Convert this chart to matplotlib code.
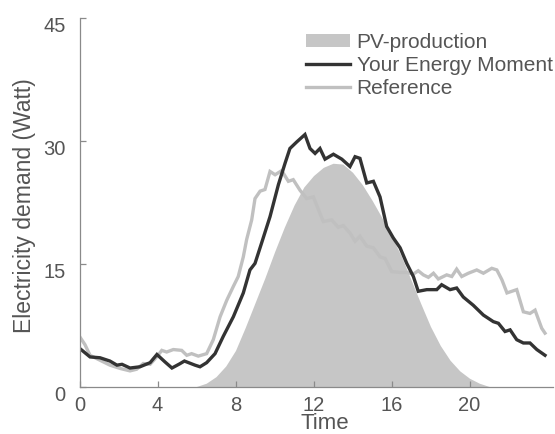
import matplotlib.pyplot as plt
from matplotlib.patches import Patch
from matplotlib.lines import Line2D
from matplotlib.transforms import ScaledTranslation

plt.rcParams['font.family'] = ['Liberation Sans', 'DejaVu Sans']

# PV production (Watt), half-hour steps
pv_hours = [5.5, 6.0, 6.5, 7.0, 7.5, 8.0, 8.5, 9.0, 9.5, 10.0, 10.5, 11.0, 11.5, 12.0,
            12.5, 13.0, 13.5, 14.0, 14.5, 15.0, 15.5, 16.0, 16.5, 17.0, 17.5, 18.0,
            18.5, 19.0, 19.5, 20.0, 20.5, 21.0, 21.5]
pv_watt = [0, 0.1, 0.5, 1.3, 2.6, 4.5, 7.3, 10.3, 13.3, 16.5, 19.5, 22.2, 24.4, 25.8,
           26.8, 27.3, 27.2, 26.2, 24.7, 22.8, 20.7, 18.4, 16.0, 13.1, 10.2, 7.4,
           5.1, 3.3, 2.0, 1.1, 0.5, 0.1, 0]

# demand with Your Energy Moment
own_hours = [0.03, 0.54, 1.05, 1.56, 1.92, 2.18, 2.59, 3.10, 3.62, 3.97, 4.38, 4.74,
             5.13, 5.38, 5.92, 6.18, 6.52, 6.95, 7.37, 7.89, 8.40, 8.74, 9.00, 9.34,
             9.77, 10.20, 10.54, 10.79, 11.14, 11.56, 11.82, 12.08, 12.33, 12.59,
             13.02, 13.45, 13.87, 14.13, 14.38, 14.73, 15.07, 15.41, 15.75, 16.09,
             16.44, 16.78, 17.12, 17.37, 17.81, 18.32, 18.57, 19.00, 19.34, 19.68,
             20.19, 20.71, 21.22, 21.48, 21.82, 22.08, 22.42, 22.76, 23.10, 23.45, 23.87]
own_watt = [4.7, 3.7, 3.6, 3.2, 2.7, 2.8, 2.35, 2.5, 3.0, 4.0, 3.1, 2.35,
            2.85, 3.2, 2.7, 2.5, 3.0, 4.1, 6.2, 8.6, 11.5, 14.3, 15.1, 17.6,
            20.8, 24.7, 27.3, 29.1, 29.9, 30.8, 29.1, 28.5, 29.1, 27.8,
            28.4, 27.8, 26.9, 28.1, 27.9, 24.9, 25.1, 23.2, 19.6, 18.2,
            17.0, 15.1, 13.5, 11.7, 11.9, 11.9, 12.5, 11.9, 12.1, 11.0,
            10.0, 8.8, 8.0, 7.8, 6.8, 7.0, 5.8, 5.4, 5.4, 4.6, 3.9]

# reference demand
ref_hours = [0.0, 0.28, 0.54, 1.05, 1.56, 2.08, 2.59, 2.93, 3.27, 3.62, 3.96, 4.22,
             4.47, 4.81, 5.24, 5.50, 5.75, 6.09, 6.52, 6.86, 7.21, 7.55, 7.89, 8.14,
             8.40, 8.57, 8.83, 9.00, 9.26, 9.51, 9.77, 10.03, 10.37, 10.71, 10.96,
             11.31, 11.65, 11.99, 12.50, 12.93, 13.27, 13.53, 13.87, 14.13, 14.38,
             14.73, 15.07, 15.41, 15.67, 16.01, 16.44, 16.78, 17.12, 17.37, 17.63,
             17.89, 18.15, 18.40, 18.83, 19.09, 19.34, 19.60, 19.94, 20.37, 20.71,
             21.14, 21.40, 21.66, 21.92, 22.42, 22.76, 23.10, 23.36, 23.70, 23.87]
ref_watt = [6.2, 5.2, 3.9, 3.3, 2.7, 2.3, 2.0, 2.2, 2.9, 2.8, 3.7, 4.5,
            4.3, 4.6, 4.5, 3.9, 4.1, 3.8, 4.1, 5.8, 8.6, 10.6, 12.3, 13.5,
            15.9, 18.0, 20.4, 23.0, 23.9, 24.1, 26.3, 25.9, 26.4, 25.1, 25.3,
            24.0, 23.0, 23.2, 20.2, 20.4, 19.5, 19.7, 18.8, 17.8, 18.4,
            17.2, 17.0, 15.9, 15.7, 14.1, 14.0, 14.0, 13.8, 14.2, 13.7,
            13.4, 13.9, 13.2, 13.7, 13.5, 14.4, 13.5, 13.9, 14.3, 13.9,
            14.5, 14.3, 13.1, 11.5, 11.9, 9.2, 9.0, 9.4, 7.2, 6.6]

x_ticks = [0, 4, 8, 12, 16, 20]
y_ticks = [0, 15, 30, 45]

pv_color = '#c6c6c6'
own_color = '#333333'
ref_color = '#c0c0c0'
text_color = '#555555'
axis_color = '#8a8a8a'

fig = plt.figure(figsize=(5.55, 4.34), dpi=100)
ax = fig.add_axes([79.5 / 555, 1 - 387.3 / 434, (553 - 79.5) / 555, (387.3 - 18) / 434])

ax.fill_between(pv_hours, 0, pv_watt, color=pv_color, linewidth=0)
ax.plot(ref_hours, ref_watt, color=ref_color, lw=2.4, solid_joinstyle='miter')
ax.plot(own_hours, own_watt, color=own_color, lw=2.4, solid_joinstyle='miter')

ax.set_xlim(0, 24.28)
ax.set_ylim(0, 45)
ax.set_xticks(x_ticks)
ax.set_yticks(y_ticks)

for side in ['top', 'right']:
    ax.spines[side].set_visible(False)
for side in ['left', 'bottom']:
    ax.spines[side].set_color(axis_color)
    ax.spines[side].set_linewidth(0.9)

ax.tick_params(axis='both', direction='in', length=4, width=0.9, color=axis_color,
               labelsize=14.5, labelcolor=text_color)
ax.tick_params(axis='x', pad=6)
ax.tick_params(axis='y', pad=10)
shift = ScaledTranslation(0, -6 / 100, fig.dpi_scale_trans)
for lab in ax.get_yticklabels():
    lab.set_transform(lab.get_transform() + shift)

ax.set_xlabel('Time', fontsize=16, color=text_color, va='baseline')
ax.xaxis.set_label_coords(0.518, -0.113)
ax.set_ylabel('Electricity demand (Watt)', fontsize=16.5, color=text_color, va='center')
ax.yaxis.set_label_coords(-0.117, 0.491)

handles = [Patch(facecolor=pv_color, edgecolor='none'),
           Line2D([], [], color=own_color, lw=2.4),
           Line2D([], [], color=ref_color, lw=2.4)]
labels = ['PV-production', 'Your Energy Moment', 'Reference']
leg = ax.legend(handles, labels, loc='upper left', bbox_to_anchor=(306 / 555, 1 - 33 / 434),
                bbox_transform=fig.transFigure, frameon=False, fontsize=15,
                handlelength=2.1, handleheight=0.55, handletextpad=0.33,
                labelspacing=0.19, borderpad=0, borderaxespad=0)
for txt in leg.get_texts():
    txt.set_color(text_color)

fig.savefig('out.png', dpi=100)
